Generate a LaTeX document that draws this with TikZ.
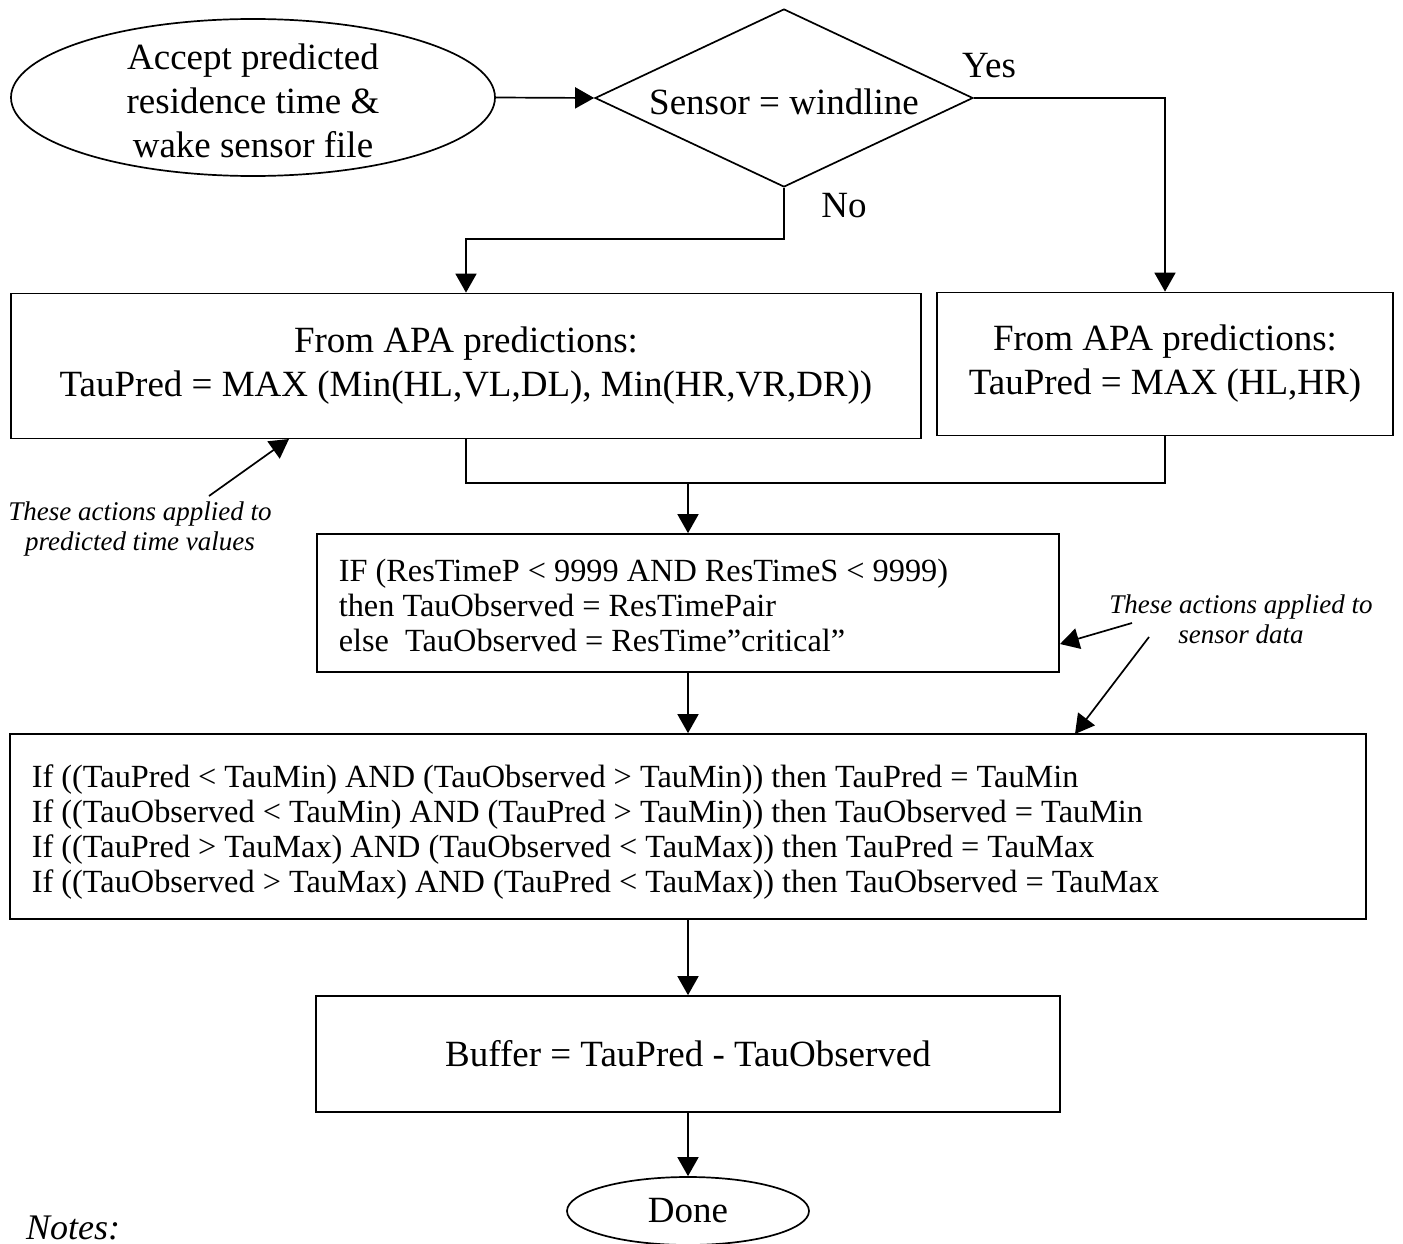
\documentclass[tikz,border=0pt]{standalone}
\usepackage{fontspec}
\setmainfont{Liberation Serif}
\usetikzlibrary{shapes.geometric,arrows.meta}
\begin{document}
\begin{tikzpicture}[x=1pt,y=-1pt,
  line width=1.7pt,
  arr/.style={-{Triangle[length=19pt,width=21pt]}},
  bigtxt/.style={font=\fontsize{37}{44}\selectfont},
  boxtxt/.style={font=\fontsize{32.3}{35}\selectfont, align=left, inner sep=0pt},
  note/.style={font=\fontsize{27}{30}\selectfont\itshape, align=center},
  box/.style={draw, rectangle, inner sep=0pt},
]
\useasboundingbox (0,0) rectangle (1403,1244);

% start and decision
\node[draw, ellipse, minimum width=484pt, minimum height=157pt, inner sep=0pt]
      (start) at (253,97.5) {};
\node[align=center, bigtxt] (starttxt) at (253,101)
      {Accept predicted\\residence time \&\\wake sensor file};
\node[draw, diamond, aspect=2.12, minimum width=378pt, minimum height=178pt,
      inner sep=0pt] (dec) at (784,98) {};
\node[bigtxt] (dectxt) at (784,102) {Sensor = windline};
\node[bigtxt, anchor=base] (yes) at (989,78) {Yes};
\node[bigtxt, anchor=base] (no) at (844,217) {No};

% prediction boxes
\node[box, minimum width=910pt, minimum height=145pt, align=center, bigtxt]
      (lbox) at (466,366)
      {From APA predictions:\\TauPred = MAX (Min(HL,VL,DL), Min(HR,VR,DR))};
\node[box, minimum width=456pt, minimum height=143pt, align=center, bigtxt]
      (rbox) at (1165,364)
      {From APA predictions:\\TauPred = MAX (HL,HR)};

% observed value selection
\node[box, minimum width=742pt, minimum height=138pt] (ifbox) at (688,603) {};
\node[boxtxt, anchor=west] (iftxt) at (338,605)
      {IF (ResTimeP < 9999 AND ResTimeS < 9999)\\
       then TauObserved = ResTimePair\\
       else~~TauObserved = ResTime”critical”};

% clamping rules
\node[box, minimum width=1356pt, minimum height=185pt] (rules) at (688,826.5) {};
\node[boxtxt, anchor=west] (rulestxt) at (31,832)
      {If ((TauPred < TauMin) AND (TauObserved > TauMin)) then TauPred = TauMin\\
       If ((TauObserved < TauMin) AND (TauPred > TauMin)) then TauObserved = TauMin\\
       If ((TauPred > TauMax) AND (TauObserved < TauMax)) then TauPred = TauMax\\
       If ((TauObserved > TauMax) AND (TauPred < TauMax)) then TauObserved = TauMax};

% result
\node[box, minimum width=744pt, minimum height=116pt, bigtxt] (buf) at (688,1054)
      {Buffer = TauPred - TauObserved};
\node[draw, ellipse, minimum width=242pt, minimum height=68pt, inner sep=0pt,
      bigtxt] (done) at (688,1211) {Done};

\node[font=\fontsize{36}{44}\selectfont\itshape, anchor=base west] (notes)
      at (22,1239) {Notes:};

% side remarks
\node[note] (noteL) at (140,529) {These actions applied to\\predicted time values};
\node[note] (noteR) at (1241,619) {These actions applied to\\sensor data};

% connectors
\coordinate (nobend) at (784,239);
\coordinate (merge) at (688,483);
\draw[arr] (start.east) -- (dec.west);
\draw[arr] (dec.east) -| (rbox.north);
\draw[arr] (dec.south) -- (nobend) -| (lbox.north);
\draw (lbox.south) -- (lbox.south |- merge) -- (rbox.south |- merge) -- (rbox.south);
\draw[arr] (merge) -- (ifbox.north);
\draw[arr] (ifbox.south) -- (rules.north);
\draw[arr] (rules.south) -- (buf.north);
\draw[arr] (buf.south) -- (done.north);

% remark pointers
\coordinate (tailL) at (209,496);
\coordinate (tipL) at (289,439);
\coordinate (tailR1) at (1132,623);
\coordinate (tipR1) at (1060,644);
\coordinate (tailR2) at (1149,637);
\coordinate (tipR2) at (1075,734);
\draw[arr] (tailL) -- (tipL);
\draw[arr] (tailR1) -- (tipR1);
\draw[arr] (tailR2) -- (tipR2);
\end{tikzpicture}
\end{document}
